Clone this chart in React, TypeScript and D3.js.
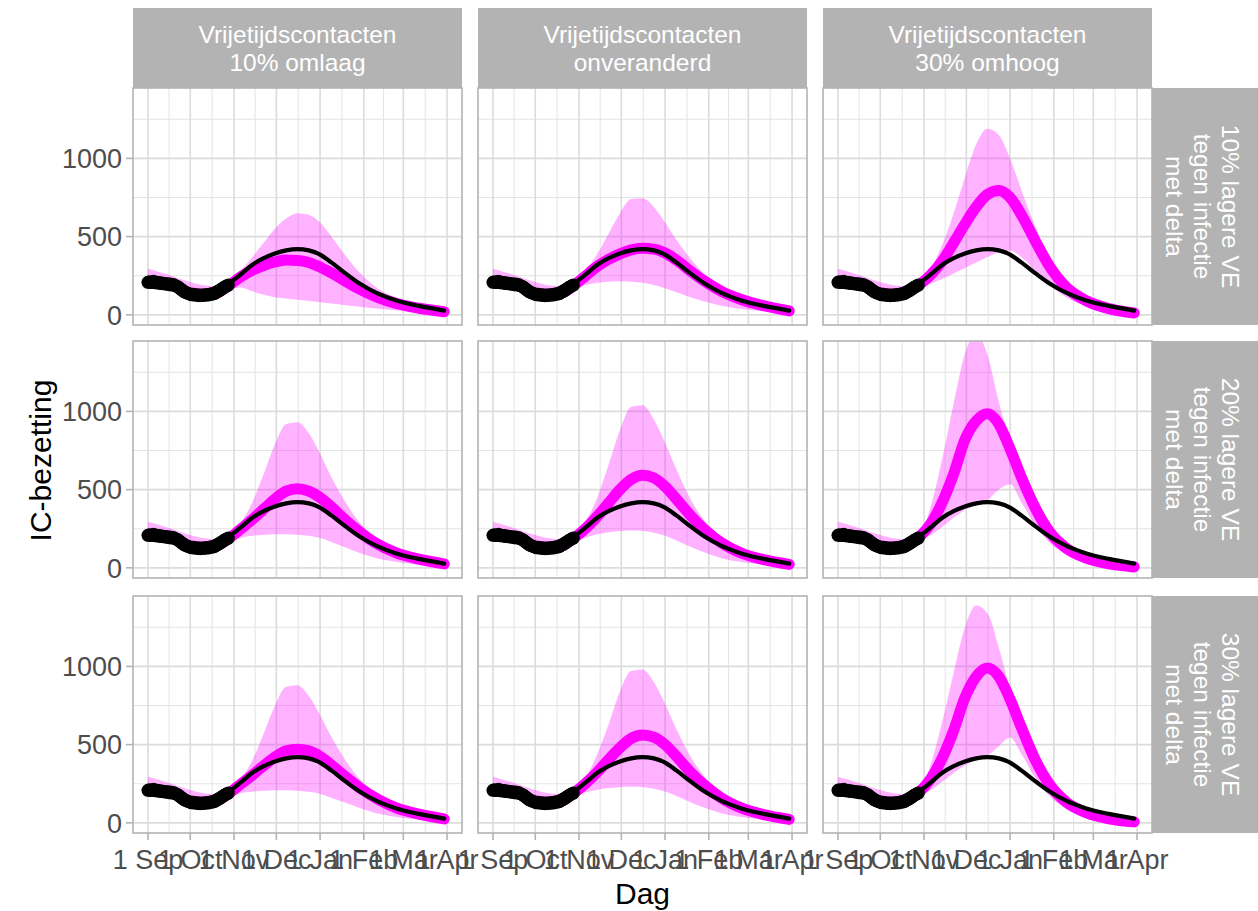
import React from "react";
import * as d3 from "d3";

// ---------- data ----------
const colLabels: string[][] = [
  ["Vrijetijdscontacten", "10% omlaag"],
  ["Vrijetijdscontacten", "onveranderd"],
  ["Vrijetijdscontacten", "30% omhoog"],
];
const rowLabels: string[][] = [
  ["10% lagere VE", "tegen infectie", "met delta"],
  ["20% lagere VE", "tegen infectie", "met delta"],
  ["30% lagere VE", "tegen infectie", "met delta"],
];
const yTicks = [0, 500, 1000];
const yMinor = [250, 750, 1250];
const startDay = "2021-09-01";
const endDay = "2022-04-01";

// observed IC occupancy, daily from 1 Sep
const observed = [
  208, 212, 206, 210, 214, 205, 209, 203, 206, 200,
  204, 198, 201, 196, 199, 193, 197, 190, 194, 188,
  185, 180, 174, 166, 160, 152, 147, 142, 138, 135,
  132, 128, 131, 126, 129, 124, 127, 122, 126, 124,
  128, 125, 130, 127, 133, 131, 137, 135, 142, 148,
  152, 158, 163, 170, 176, 181, 186, 190,
];

// reference scenario (black line)
const refDays = [56, 66, 74, 82, 90, 98, 106, 114, 122, 130, 140, 150, 162, 176, 192, 210];
const refValues = [188, 260, 320, 362, 392, 412, 420, 412, 385, 335, 265, 200, 140, 92, 57, 27];

// model grid (days since 1 Sep)
const modelDays = [0, 15, 30, 45, 58, 66, 74, 82, 90, 98, 106, 114, 122, 130, 140, 150, 162, 176, 192, 210];
const earlyMid = [207, 196, 140, 130];
const earlyUpper = [295, 255, 210, 185];
const earlyLower = [180, 172, 122, 115];

// per panel (row-major: rows = VE, cols = contacts), values from day 58 on
const medianByPanel = [
  [192, 245, 285, 315, 338, 350, 348, 335, 305, 268, 215, 165, 115, 72, 42, 20],
  [192, 252, 310, 355, 390, 415, 425, 420, 395, 350, 280, 215, 150, 98, 58, 25],
  [195, 258, 345, 460, 580, 690, 770, 795, 750, 640, 470, 310, 175, 90, 40, 12],
  [192, 250, 310, 375, 440, 490, 505, 490, 450, 390, 305, 230, 155, 95, 55, 25],
  [195, 255, 330, 415, 500, 565, 592, 575, 520, 440, 335, 245, 160, 95, 52, 22],
  [200, 285, 420, 600, 820, 940, 985, 920, 760, 580, 380, 230, 125, 62, 25, 6],
  [192, 250, 305, 365, 420, 460, 470, 460, 425, 370, 295, 225, 155, 95, 55, 25],
  [195, 255, 325, 405, 480, 540, 562, 548, 500, 425, 325, 240, 158, 95, 52, 22],
  [200, 285, 415, 590, 800, 935, 990, 935, 790, 610, 400, 245, 132, 65, 26, 6],
];
const upperByPanel = [
  [210, 285, 370, 460, 550, 615, 650, 640, 590, 500, 380, 270, 175, 110, 70, 45],
  [210, 285, 390, 520, 650, 740, 745, 690, 590, 480, 360, 260, 175, 110, 70, 45],
  [215, 300, 450, 650, 880, 1090, 1190, 1150, 1000, 800, 560, 370, 220, 125, 70, 45],
  [212, 290, 420, 600, 790, 920, 930, 860, 730, 580, 420, 290, 185, 115, 70, 45],
  [215, 300, 450, 660, 880, 1030, 1040, 950, 800, 630, 440, 300, 190, 115, 70, 42],
  [220, 400, 700, 1050, 1370, 1500, 1360, 1060, 800, 560, 390, 250, 150, 95, 60, 45],
  [212, 285, 400, 570, 750, 870, 880, 810, 690, 550, 400, 280, 180, 110, 68, 45],
  [215, 295, 440, 630, 840, 970, 980, 900, 760, 600, 425, 295, 185, 112, 68, 42],
  [220, 380, 650, 960, 1250, 1390, 1340, 1120, 850, 600, 410, 265, 160, 100, 62, 45],
];
const lowerByPanel = [
  [168, 175, 150, 128, 113, 104, 96, 89, 81, 72, 62, 52, 41, 30, 20, 12],
  [168, 190, 205, 212, 215, 212, 205, 190, 170, 145, 112, 85, 58, 38, 22, 10],
  [170, 200, 230, 265, 300, 335, 370, 400, 410, 370, 280, 190, 110, 55, 22, 5],
  [168, 192, 205, 212, 215, 215, 212, 205, 190, 165, 130, 95, 62, 38, 22, 10],
  [170, 195, 215, 228, 235, 238, 235, 225, 205, 175, 135, 98, 62, 38, 20, 8],
  [172, 210, 262, 320, 370, 400, 432, 500, 535, 420, 270, 160, 85, 40, 15, 2],
  [168, 190, 200, 205, 208, 208, 205, 198, 185, 160, 128, 95, 62, 38, 22, 10],
  [170, 195, 212, 222, 228, 230, 228, 218, 200, 172, 132, 96, 62, 38, 20, 8],
  [172, 210, 262, 318, 368, 400, 430, 490, 545, 440, 285, 170, 90, 42, 16, 2],
];

// ---------- layout ----------
const W = 1258;
const H = 911;
const colX = [133, 478, 823];
const rowY = [88, 341, 596];
const panelW = 329;
const panelH = 237;
const stripTop = 8;
const stripRightX = 1152;
const FONT = "'Liberation Sans', Arial, Helvetica, sans-serif";

export default function App() {
  const start = d3.utcParse("%Y-%m-%d")(startDay)!;
  const end = d3.utcParse("%Y-%m-%d")(endDay)!;
  const span = +end - +start;
  const x = d3
    .scaleUtc()
    .domain([new Date(+start - 0.05 * span), new Date(+end + 0.05 * span)])
    .range([0, panelW]);
  const y = d3.scaleLinear().domain([-65, 1450]).range([panelH, 0]);
  const dayX = (d: number) => x(d3.utcDay.offset(start, d));

  const majorX = d3.utcMonth.range(start, d3.utcDay.offset(end, 1));
  const minorX = majorX.slice(0, -1).map((d, i) => new Date((+d + +majorX[i + 1]) / 2));
  const fmt = d3.utcFormat("%-d %b");

  const lineGen = d3
    .line<[number, number]>()
    .x((p) => dayX(p[0]))
    .y((p) => y(p[1]))
    .curve(d3.curveMonotoneX);
  const areaGen = d3
    .area<[number, number, number]>()
    .x((p) => dayX(p[0]))
    .y0((p) => y(p[1]))
    .y1((p) => y(p[2]))
    .curve(d3.curveMonotoneX);

  const refPath = lineGen(refDays.map((d, i) => [d, refValues[i]] as [number, number]))!;

  const panels: JSX.Element[] = [];
  for (let r = 0; r < 3; r++) {
    for (let c = 0; c < 3; c++) {
      const k = r * 3 + c;
      const mid = earlyMid.concat(medianByPanel[k]);
      const up = earlyUpper.concat(upperByPanel[k]);
      const lo = earlyLower.concat(lowerByPanel[k]);
      const band = areaGen(modelDays.map((d, i) => [d, lo[i], up[i]] as [number, number, number]))!;
      const midPath = lineGen(modelDays.map((d, i) => [d, mid[i]] as [number, number]))!;
      const clipId = `clip-${k}`;
      panels.push(
        <g key={k} transform={`translate(${colX[c]},${rowY[r]})`}>
          <defs>
            <clipPath id={clipId}>
              <rect x={0} y={0} width={panelW} height={panelH} />
            </clipPath>
          </defs>
          <rect x={0} y={0} width={panelW} height={panelH} fill="#ffffff" />
          {minorX.map((d, i) => (
            <line key={"mx" + i} x1={x(d)} x2={x(d)} y1={0} y2={panelH} stroke="#e4e4e4" strokeWidth={1} />
          ))}
          {yMinor.map((v, i) => (
            <line key={"my" + i} x1={0} x2={panelW} y1={y(v)} y2={y(v)} stroke="#e4e4e4" strokeWidth={1} />
          ))}
          {majorX.map((d, i) => (
            <line key={"Mx" + i} x1={x(d)} x2={x(d)} y1={0} y2={panelH} stroke="#dcdcdc" strokeWidth={1.6} />
          ))}
          {yTicks.map((v, i) => (
            <line key={"My" + i} x1={0} x2={panelW} y1={y(v)} y2={y(v)} stroke="#dcdcdc" strokeWidth={1.6} />
          ))}
          <g clipPath={`url(#${clipId})`}>
            <path d={band} fill="#ff00ff" fillOpacity={0.3} stroke="none" />
            <path d={midPath} fill="none" stroke="#ff00ff" strokeWidth={11} strokeLinecap="round" strokeLinejoin="round" />
            <path d={refPath} fill="none" stroke="#000000" strokeWidth={4.2} strokeLinecap="round" />
            {observed.map((v, i) => (
              <circle key={"o" + i} cx={dayX(i)} cy={y(v)} r={6.5} fill="#000000" />
            ))}
          </g>
          <rect x={0} y={0} width={panelW} height={panelH} fill="none" stroke="#b3b3b3" strokeWidth={1.6} />
        </g>
      );
    }
  }

  return (
    <svg
      width={W}
      height={H}
      viewBox={`0 0 ${W} ${H}`}
      style={{ position: "absolute", left: 0, top: 0, background: "#ffffff" }}
      fontFamily={FONT}
    >
      <rect x={0} y={0} width={W} height={H} fill="#ffffff" />
      {/* top strips */}
      {colLabels.map((lines, c) => (
        <g key={"ts" + c}>
          <rect x={colX[c]} y={stripTop} width={panelW} height={rowY[0] - stripTop} fill="#b3b3b3" />
          {lines.map((t, i) => (
            <text
              key={i}
              x={colX[c] + panelW / 2}
              y={43 + i * 28}
              textAnchor="middle"
              fontSize={24.5}
              fill="#ffffff"
            >
              {t}
            </text>
          ))}
        </g>
      ))}
      {/* right strips */}
      {rowLabels.map((lines, r) => (
        <g key={"rs" + r}>
          <rect x={stripRightX} y={rowY[r]} width={W - stripRightX + 2} height={panelH} fill="#b3b3b3" />
          {lines.map((t, i) => (
            <text
              key={i}
              transform={`translate(${1222 - i * 28},${rowY[r] + panelH / 2}) rotate(90)`}
              textAnchor="middle"
              fontSize={24.5}
              fill="#ffffff"
            >
              {t}
            </text>
          ))}
        </g>
      ))}
      {panels}
      {/* y axes */}
      {rowY.map((ry, r) => (
        <g key={"ya" + r} transform={`translate(${colX[0]},${ry})`}>
          {yTicks.map((v) => (
            <g key={v}>
              <line x1={-7} x2={0} y1={y(v)} y2={y(v)} stroke="#b3b3b3" strokeWidth={1.6} />
              <text x={-11} y={y(v)} dy="0.36em" textAnchor="end" fontSize={27} fill="#4d4d4d">
                {v}
              </text>
            </g>
          ))}
        </g>
      ))}
      {/* x axes */}
      {colX.map((cx, c) => (
        <g key={"xa" + c} transform={`translate(${cx},${rowY[2] + panelH})`}>
          {majorX.map((d, i) => (
            <g key={i}>
              <line x1={x(d)} x2={x(d)} y1={0} y2={7} stroke="#b3b3b3" strokeWidth={1.6} />
              <text x={x(d)} y={36} textAnchor="middle" fontSize={27} fill="#4d4d4d">
                {fmt(d)}
              </text>
            </g>
          ))}
        </g>
      ))}
      {/* axis titles */}
      <text x={(colX[0] + colX[2] + panelW) / 2} y={904} textAnchor="middle" fontSize={30} fill="#000000">
        Dag
      </text>
      <text
        transform={`translate(${51},${(rowY[0] + rowY[2] + panelH) / 2}) rotate(-90)`}
        textAnchor="middle"
        fontSize={30}
        fill="#000000"
      >
        IC-bezetting
      </text>
    </svg>
  );
}
